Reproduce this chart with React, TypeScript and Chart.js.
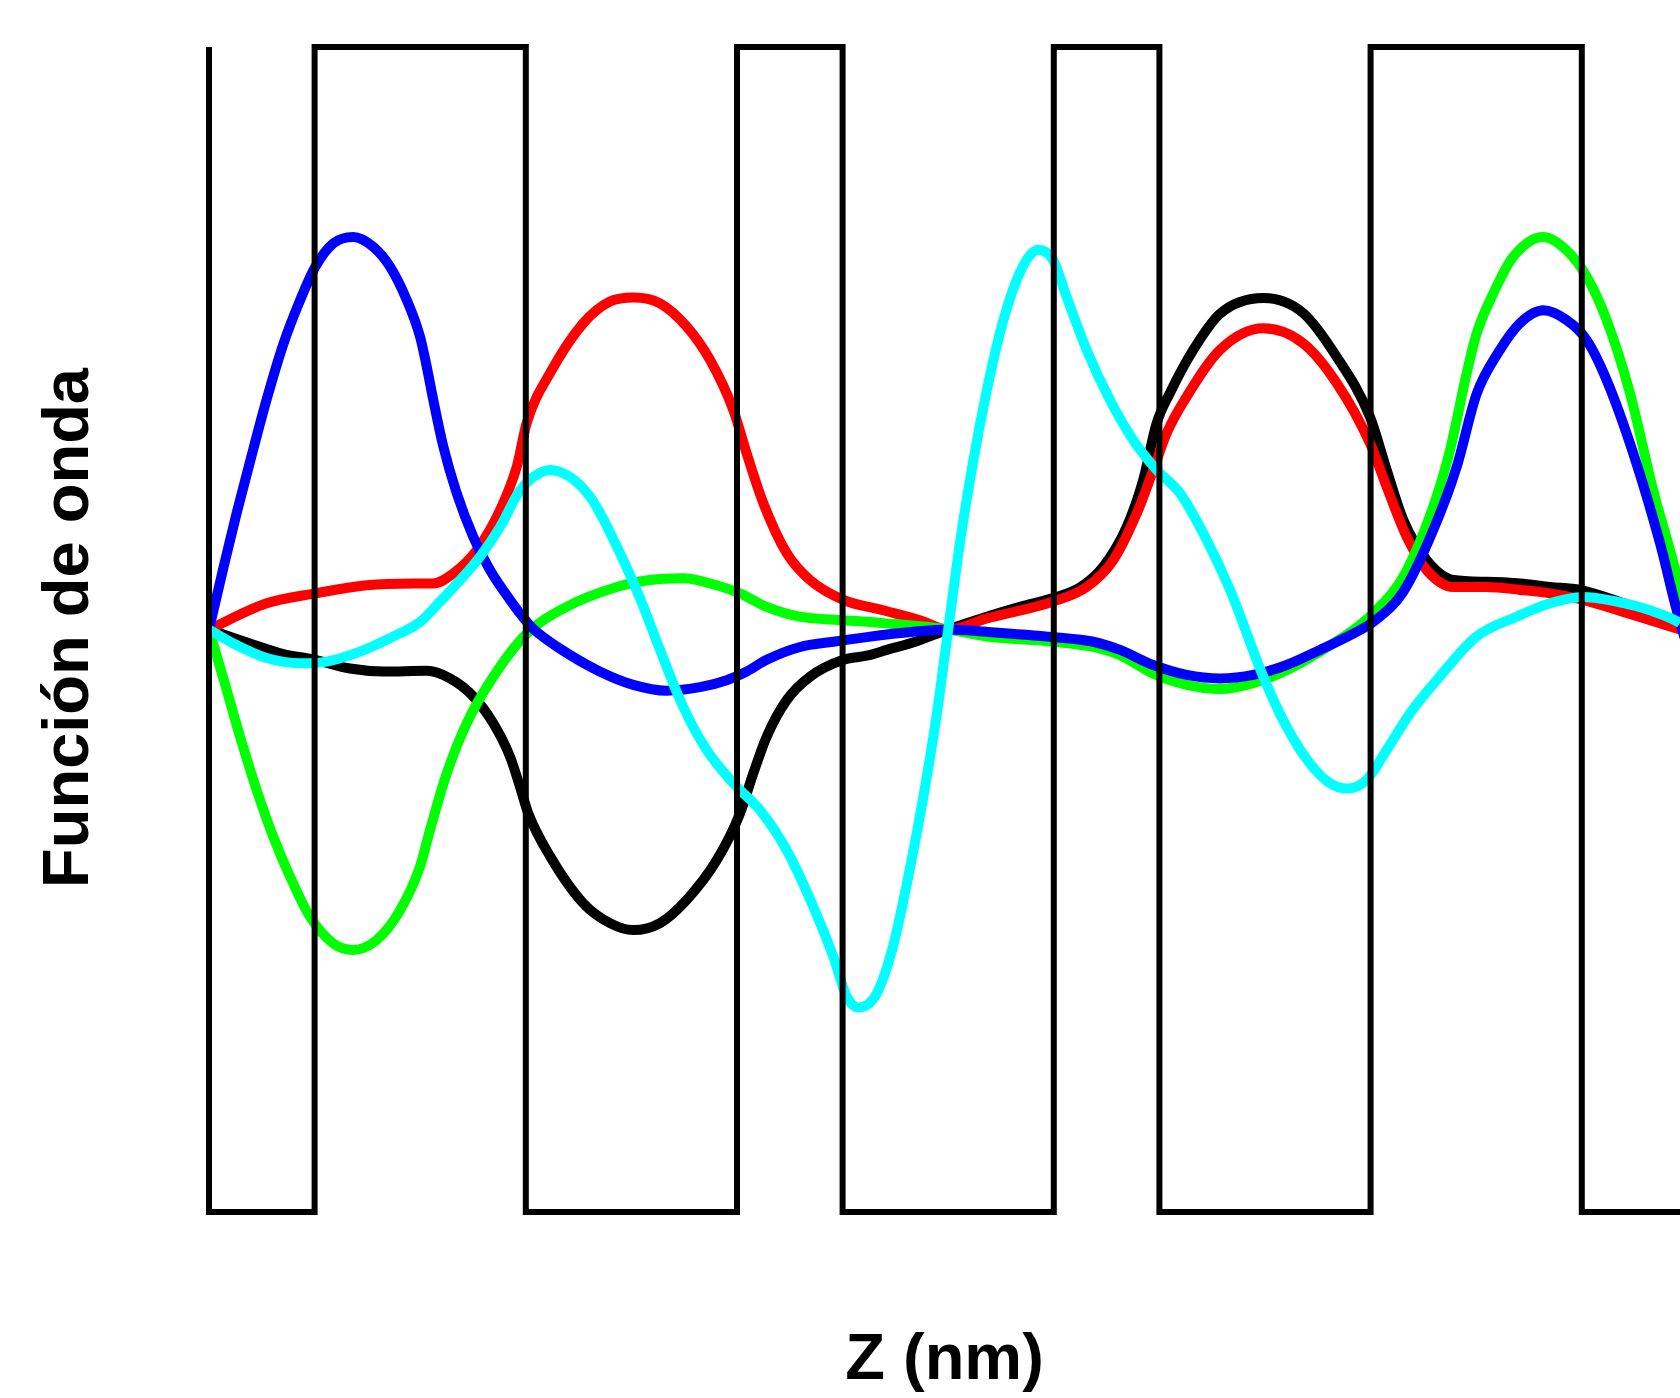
import { useEffect, useRef } from "react";
import { Chart, registerables } from "chart.js";

Chart.register(...registerables);

type Pt = [number, number];

// Superlattice potential profile (z in nm, barrier top = +1, well bottom = -1)
const potentialZ = [0, 0, 1, 1, 3, 3, 5, 5, 6, 6, 8, 8, 9, 9, 11, 11, 13, 13, 14];
const potentialV = [1, -1, -1, 1, 1, -1, -1, 1, 1, -1, -1, 1, 1, -1, -1, 1, 1, -1, -1];

// Wave functions, [z (nm), psi (arb. units)]
const psiBlack: Pt[] = [
  [0, 0], [0.388, -0.024], [0.704, -0.042], [1.004, -0.052], [1.335, -0.067], [1.651, -0.072],
  [2.062, -0.071], [2.282, -0.084], [2.503, -0.115], [2.692, -0.161], [2.85, -0.218], [2.945, -0.27],
  [3.024, -0.316], [3.229, -0.389], [3.545, -0.47], [3.797, -0.504], [4.018, -0.516], [4.271, -0.504],
  [4.524, -0.464], [4.808, -0.396], [5.028, -0.316], [5.154, -0.247], [5.281, -0.184], [5.471, -0.121],
  [5.691, -0.081], [6.007, -0.052], [6.228, -0.045], [6.418, -0.035], [6.702, -0.02], [7, 0],
  [7.365, 0.022], [7.68, 0.039], [7.995, 0.054], [8.248, 0.072], [8.469, 0.108], [8.69, 0.176],
  [8.847, 0.257], [8.974, 0.354], [9.1, 0.406], [9.321, 0.48], [9.574, 0.542], [9.984, 0.569],
  [10.363, 0.543], [10.679, 0.468], [10.994, 0.365], [11.152, 0.274], [11.31, 0.188], [11.531, 0.119],
  [11.783, 0.085], [12.099, 0.082], [12.415, 0.079], [12.699, 0.073], [12.983, 0.068], [13.485, 0.039],
  [13.93, 0.006], [14, 0],
];

const psiRed: Pt[] = [
  [0, 0], [0.546, 0.045], [1.004, 0.062], [1.493, 0.076], [1.935, 0.079],
  [2.124, 0.079], [2.313, 0.096], [2.535, 0.136], [2.756, 0.205], [2.914, 0.279], [3.009, 0.355],
  [3.229, 0.44], [3.545, 0.526], [3.797, 0.563], [4.018, 0.57], [4.271, 0.56], [4.524, 0.52],
  [4.744, 0.463], [4.965, 0.377], [5.092, 0.302], [5.249, 0.217], [5.471, 0.131], [5.691, 0.085],
  [6.007, 0.051], [6.385, 0.033], [6.733, 0.016], [7, 0], [7.365, 0.019], [7.995, 0.048],
  [8.311, 0.073], [8.563, 0.119], [8.785, 0.199], [8.942, 0.274], [9.069, 0.337], [9.259, 0.4],
  [9.574, 0.48], [9.984, 0.517], [10.363, 0.491], [10.679, 0.423], [10.994, 0.32], [11.152, 0.245],
  [11.342, 0.159], [11.531, 0.102], [11.783, 0.073], [12.099, 0.073], [12.415, 0.068], [12.699, 0.062],
  [13.008, 0.051], [13.488, 0.025], [13.93, 0], [14, -0.004],
];

const psiGreen: Pt[] = [
  [0, 0], [0.168, -0.104], [0.294, -0.184], [0.452, -0.276], [0.609, -0.356], [0.767, -0.424],
  [0.956, -0.493], [1.177, -0.539], [1.366, -0.55], [1.588, -0.533], [1.809, -0.482], [1.998, -0.407],
  [2.093, -0.344], [2.251, -0.247], [2.44, -0.161], [2.692, -0.081], [3.009, -0.007], [3.387, 0.039],
  [3.861, 0.073], [4.176, 0.085], [4.491, 0.088], [4.808, 0.076], [5.028, 0.062], [5.281, 0.039],
  [5.597, 0.022], [6.007, 0.016], [6.385, 0.011], [7, 0], [7.365, -0.012], [7.995, -0.021],
  [8.374, -0.03], [8.627, -0.044], [8.942, -0.076], [9.259, -0.095], [9.574, -0.102], [9.889, -0.092],
  [10.205, -0.07], [10.521, -0.038], [10.836, -0.001], [11.025, 0.028], [11.31, 0.091], [11.593, 0.211],
  [11.752, 0.308], [11.91, 0.44], [12.004, 0.508], [12.162, 0.577], [12.351, 0.64], [12.635, 0.674],
  [12.857, 0.651], [13.046, 0.606], [13.236, 0.531], [13.456, 0.406], [13.676, 0.239], [13.899, 0.091],
  [14, 0],
];

const psiBlue: Pt[] = [
  [0, 0], [0.135, 0.105], [0.262, 0.2], [0.42, 0.31], [0.546, 0.395], [0.704, 0.49],
  [0.862, 0.565], [1.004, 0.622], [1.177, 0.663], [1.366, 0.674], [1.556, 0.657], [1.714, 0.623],
  [1.872, 0.566], [1.998, 0.503], [2.062, 0.451], [2.124, 0.394], [2.219, 0.314], [2.346, 0.234],
  [2.503, 0.159], [2.661, 0.102], [2.85, 0.051], [2.992, 0.017], [3.071, 0.001], [3.3, -0.03],
  [3.7, -0.072], [4.018, -0.095], [4.334, -0.105], [4.65, -0.099],
  [4.902, -0.087], [5.092, -0.072], [5.281, -0.052], [5.597, -0.03], [5.912, -0.021], [6.228, -0.013],
  [6.67, -0.004], [7, 0], [7.365, -0.004], [7.995, -0.013], [8.374, -0.021], [8.627, -0.035],
  [8.942, -0.061], [9.259, -0.078], [9.574, -0.084], [9.889, -0.078], [10.205, -0.061], [10.521, -0.035],
  [10.836, -0.007], [11.025, 0.013], [11.31, 0.065], [11.594, 0.171], [11.815, 0.279], [12.005, 0.405],
  [12.225, 0.48], [12.415, 0.526], [12.635, 0.548], [12.857, 0.531], [13.046, 0.497], [13.236, 0.428],
  [13.488, 0.302], [13.741, 0.148], [13.899, 0.033], [14, -0.03],
];

const psiCyan: Pt[] = [
  [0, 0], [0.23, -0.024], [0.546, -0.049], [0.862, -0.058], [1.115, -0.055], [1.43, -0.038],
  [1.745, -0.012], [1.998, 0.013], [2.188, 0.048], [2.313, 0.072], [2.566, 0.125], [2.756, 0.176],
  [2.945, 0.239], [3.071, 0.262], [3.229, 0.274], [3.419, 0.262], [3.608, 0.228], [3.703, 0.2],
  [3.892, 0.131], [4.081, 0.054], [4.271, -0.035], [4.491, -0.133], [4.713, -0.207], [4.965, -0.264],
  [5.218, -0.31], [5.471, -0.379], [5.723, -0.476], [5.913, -0.562], [6.039, -0.63], [6.149, -0.649],
  [6.323, -0.625], [6.48, -0.542], [6.638, -0.41], [6.762, -0.29], [6.888, -0.15], [7, 0],
  [7.112, 0.15], [7.238, 0.29], [7.365, 0.41], [7.491, 0.51], [7.617, 0.585], [7.743, 0.635],
  [7.853, 0.652], [7.995, 0.634], [8.122, 0.571], [8.311, 0.48], [8.532, 0.394], [8.753, 0.325],
  [8.974, 0.274], [9.195, 0.234], [9.416, 0.165], [9.669, 0.068], [9.984, -0.081], [10.205, -0.167],
  [10.426, -0.23], [10.616, -0.264], [10.774, -0.273], [10.963, -0.258], [11.152, -0.207], [11.373, -0.144],
  [11.626, -0.087], [12.004, -0.012], [12.383, 0.022], [12.699, 0.045], [13.008, 0.056], [13.33, 0.048],
  [13.646, 0.033], [13.93, 0.011], [14, 0],
];

const Z_MIN = 0;
const Z_MAX = 13.93;
const PSI_MIN = -1.0755;
const PSI_MAX = 1.0807;

const FONT_FAMILY = "'Liberation Sans', Arial, Helvetica, sans-serif";

const toXY = (pts: Pt[]) => pts.map(([x, y]) => ({ x, y }));

function wave(label: string, pts: Pt[], color: string) {
  return {
    label,
    data: toXY(pts),
    borderColor: color,
    backgroundColor: color,
    borderWidth: 10,
    pointRadius: 0,
    fill: false,
    cubicInterpolationMode: "monotone" as const,
  };
}

export default function App() {
  const canvasRef = useRef<HTMLCanvasElement | null>(null);

  useEffect(() => {
    document.body.style.margin = "0";
    document.body.style.overflow = "hidden";
    const canvas = canvasRef.current;
    if (!canvas) return;

    const titleFont = { family: FONT_FAMILY, size: 65, weight: "bold" as const, lineHeight: 1.2 };

    const chart = new Chart(canvas, {
      type: "line",
      data: {
        datasets: [
          {
            label: "V(z)",
            data: potentialZ.map((z, i) => ({ x: z, y: potentialV[i] })),
            borderColor: "#000000",
            backgroundColor: "#000000",
            borderWidth: 6,
            borderJoinStyle: "miter",
            borderCapStyle: "butt",
            pointRadius: 0,
            tension: 0,
            fill: false,
            clip: false,
          },
          wave("psi5", psiCyan, "#00ffff"),
          wave("psi4", psiBlue, "#0000ff"),
          wave("psi3", psiGreen, "#00ff00"),
          wave("psi2", psiRed, "#ff0000"),
          wave("psi1", psiBlack, "#000000"),
        ],
      },
      options: {
        responsive: false,
        animation: false,
        events: [],
        layout: { padding: 0 },
        plugins: {
          legend: { display: false },
          tooltip: { enabled: false },
        },
        scales: {
          x: {
            type: "linear",
            min: Z_MIN,
            max: Z_MAX,
            grid: { display: false, drawTicks: false },
            border: { display: false },
            ticks: { display: false },
            title: {
              display: true,
              text: "Z (nm)",
              color: "#000000",
              font: titleFont,
              padding: { top: 66, bottom: -2 },
            },
          },
          y: {
            type: "linear",
            min: PSI_MIN,
            max: PSI_MAX,
            grid: { display: false, drawTicks: false },
            border: { display: false },
            ticks: { display: false },
            title: {
              display: true,
              text: "Función de onda",
              color: "#000000",
              font: titleFont,
              padding: { top: 31, bottom: 100 },
            },
          },
        },
      },
    });

    return () => chart.destroy();
  }, []);

  return (
    <canvas
      ref={canvasRef}
      width={1680}
      height={1398}
      style={{ display: "block", width: 1680, height: 1398 }}
    />
  );
}
